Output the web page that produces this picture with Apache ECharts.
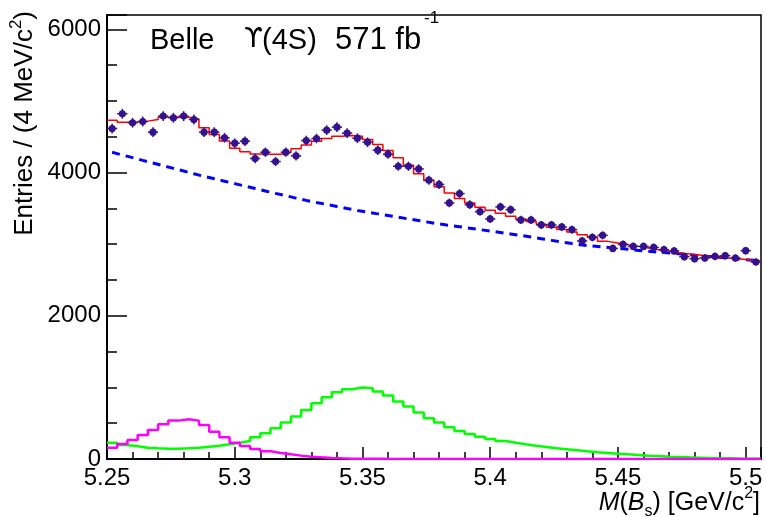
<!DOCTYPE html>
<html><head><meta charset="utf-8">
<script src="https://cdn.jsdelivr.net/npm/echarts@6/dist/echarts.min.js"></script>
<style>html,body{margin:0;padding:0;background:#fff}#c{width:766px;height:517px}</style>
</head><body><div id="c"></div>
<script>
// ---- binning (GeV/c^2) ----
const binLow = 5.25;
const binWidth = 0.004;
const nBins = 64;

// ---- data points (entries per 4 MeV/c^2) ----
const dataCounts = [4615,4821,4695,4713,4564,4788,4765,4788,4741,4564,
  4564,4485,4410,4438,4196,4284,4154,4284,4233,4447,
  4475,4592,4634,4550,4480,4424,4312,4256,4088,4088,
  4051,3893,3834,3576,3706,3552,3454,3352,3520,3482,
  3338,3338,3268,3268,3240,3203,3045,3095,3123,2941,
  2997,2969,2969,2955,2923,2905,2825,2797,2807,2830,
  2839,2807,2909,2751];
const dataErrors = [68,69,68,69,68,69,69,69,69,68,
  68,67,66,67,65,65,64,65,65,67,
  67,68,68,67,67,67,66,65,64,64,
  64,62,62,60,61,60,59,58,59,59,
  58,58,57,57,57,57,55,56,56,54,
  55,54,54,54,54,54,53,53,53,53,
  53,53,54,52];

// ---- total fit (red histogram) ----
const fitTotal = [4732,4704,4708,4718,4740,4772,4775,4772,4748,4625,
  4531,4440,4340,4290,4258,4255,4255,4280,4332,4385,
  4438,4475,4508,4517,4508,4461,4392,4308,4205,4102,
  3982,3888,3800,3716,3636,3576,3515,3473,3431,3389,
  3352,3315,3277,3235,3203,3171,3133,3101,3039,3016,
  2993,2969,2946,2923,2900,2881,2862,2848,2830,2816,
  2802,2793,2779,2769];

// ---- background (blue dashed) ----
const background = [4283,4245,4208,4170,4133,4096,4058,4021,3983,3947,
  3913,3879,3845,3811,3777,3743,3709,3676,3643,3611,
  3582,3555,3526,3497,3471,3447,3423,3400,3376,3352,
  3329,3305,3282,3262,3243,3223,3203,3183,3163,3143,
  3122,3099,3076,3053,3030,3008,2987,2974,2961,2948,
  2935,2921,2908,2895,2883,2871,2858,2846,2834,2821,
  2809,2797,2784,2772];

// ---- green component ----
const greenComp = [228,196,177,158,149,144,144,149,158,172,
  186,205,228,252,303,359,429,508,592,685,
  779,863,932,974,997,988,942,886,802,732,
  648,569,508,443,392,350,312,280,252,228,
  205,186,168,149,135,121,107,93,84,75,
  65,56,47,42,33,28,23,19,14,9,
  9,5,5,2];

// ---- magenta component ----
const magentaComp = [158,210,266,336,406,485,536,555,536,476,
  382,303,228,182,140,107,84,65,47,33,
  23,14,9,5,3,2,2,1,1,1,
  0,0,0,0,0,0,0,0,0,0,
  0,0,0,0,0,0,0,0,0,0,
  0,0,0,0,0,0,0,0,0,0,
  0,0,0,0];

// ---- axis ----
const xMin = 5.25, xMax = 5.506, xStep = 0.05;
const yMin = 0, yMax = 6200, yStep = 2000;

const FONT = 'Liberation Sans, Arial, Helvetica, sans-serif';
const edge = k => +(binLow + k * binWidth).toFixed(4);
const center = k => +(binLow + (k + 0.5) * binWidth).toFixed(4);
function stepData(vals) {
  const out = vals.map((v, k) => [edge(k), v]);
  out.push([edge(vals.length), vals[vals.length - 1]]);
  return out;
}
const markerColor = '#34128e';

const chart = echarts.init(document.getElementById('c'), null, {renderer: 'canvas'});
chart.setOption({
  animation: false,
  backgroundColor: '#ffffff',
  grid: {left: 107, right: 5, top: 15, bottom: 58, show: true, borderColor: '#000', borderWidth: 1.5, backgroundColor: 'transparent'},
  xAxis: {
    type: 'value', min: xMin, max: xMax, interval: xStep,
    axisLine: {show: true, onZero: false, lineStyle: {color: '#000', width: 2}},
    axisTick: {show: true, inside: true, length: 12, lineStyle: {color: '#000', width: 1.5}},
    minorTick: {show: true, splitNumber: 5, length: 7, lineStyle: {color: '#000', width: 1.5}},
    splitLine: {show: false},
    axisLabel: {color: '#000', fontSize: 24, fontFamily: FONT, margin: 7, showMaxLabel: false,
      formatter: v => String(+v.toFixed(3))}
  },
  yAxis: {
    type: 'value', min: yMin, max: yMax, interval: yStep,
    axisLine: {show: true, lineStyle: {color: '#000', width: 2}},
    axisTick: {show: true, inside: true, length: 20, lineStyle: {color: '#000', width: 1.5}},
    minorTick: {show: true, splitNumber: 4, length: 10, lineStyle: {color: '#000', width: 1.5}},
    splitLine: {show: false},
    axisLabel: {color: '#000', fontSize: 24, fontFamily: FONT, margin: 6, showMaxLabel: false,
      formatter: v => String(Math.round(v))}
  },
  series: [
    {type: 'line', name: 'background', data: background.map((v, k) => [center(k), v]),
      showSymbol: false, lineStyle: {color: '#0000ff', width: 3, type: [8, 6]}, z: 2},
    {type: 'line', name: 'green', data: stepData(greenComp), step: 'end',
      showSymbol: false, lineStyle: {color: '#00ff00', width: 2.5}, z: 3},
    {type: 'line', name: 'magenta', data: stepData(magentaComp), step: 'end',
      showSymbol: false, lineStyle: {color: '#ff00ff', width: 2.5}, z: 3},
    {type: 'line', name: 'fit', data: stepData(fitTotal), step: 'end',
      showSymbol: false, lineStyle: {color: '#ff0000', width: 1.5}, z: 4},
    {type: 'custom', name: 'data', z: 5,
      data: dataCounts.map((v, k) => [center(k), v, dataErrors[k]]),
      renderItem: function (params, api) {
        const x = api.value(0), y = api.value(1), e = api.value(2);
        const c = api.coord([x, y]);
        const l = api.coord([x - binWidth / 2, y]);
        const r = api.coord([x + binWidth / 2, y]);
        const t = api.coord([x, y + e]);
        const b = api.coord([x, y - e]);
        return {type: 'group', children: [
          {type: 'line', shape: {x1: l[0], y1: l[1], x2: r[0], y2: r[1]}, style: {stroke: markerColor, lineWidth: 1.5}},
          {type: 'line', shape: {x1: t[0], y1: t[1], x2: b[0], y2: b[1]}, style: {stroke: markerColor, lineWidth: 1.5}},
          {type: 'circle', shape: {cx: c[0], cy: c[1], r: 3.6}, style: {fill: markerColor}}
        ]};
      }
    }
  ],
  graphic: [
    {type: 'text', left: 150, top: 26, z: 10,
      style: {text: 'Belle', fontSize: 29, fontFamily: FONT, fill: '#000'}},
    {type: 'text', left: 244, top: 26, z: 10,
      style: {text: '\u03D2', fontSize: 27, fontFamily: 'DejaVu Sans', fill: '#000'}},
    {type: 'text', left: 262, top: 26, z: 10,
      style: {text: '(4S)', fontSize: 29, fontFamily: FONT, fill: '#000'}},
    {type: 'text', left: 335, top: 25, z: 10,
      style: {text: '571 fb', fontSize: 31, fontFamily: FONT, fill: '#000'}},
    {type: 'text', left: 424, top: 10, z: 10,
      style: {text: '-1', fontSize: 17, fontFamily: FONT, fill: '#000'}},
    {type: 'text', x: 25, y: 11, rotation: Math.PI / 2, z: 10,
      style: {text: '{n|Entries / (4 MeV/c}{s|2}{n|)}', align: 'right', verticalAlign: 'middle', fill: '#000', fontFamily: FONT,
        rich: {n: {fontSize: 26, fontFamily: FONT, lineHeight: 34},
               s: {fontSize: 17, fontFamily: FONT, lineHeight: 20, verticalAlign: 'top'}}}},
    {type: 'text', x: 760, y: 503, z: 10,
      style: {text: '{i|M}{n|(}{i|B}{b|s}{n|) [GeV/c}{s|2}{n|]}', align: 'right', verticalAlign: 'middle', fill: '#000', fontFamily: FONT,
        rich: {n: {fontSize: 25, fontFamily: FONT, lineHeight: 34},
               i: {fontSize: 25, fontFamily: FONT, fontStyle: 'italic', lineHeight: 34},
               b: {fontSize: 16, fontFamily: FONT, lineHeight: 16, verticalAlign: 'bottom'},
               s: {fontSize: 16, fontFamily: FONT, lineHeight: 20, verticalAlign: 'top'}}}}
  ]
});
</script></body></html>
